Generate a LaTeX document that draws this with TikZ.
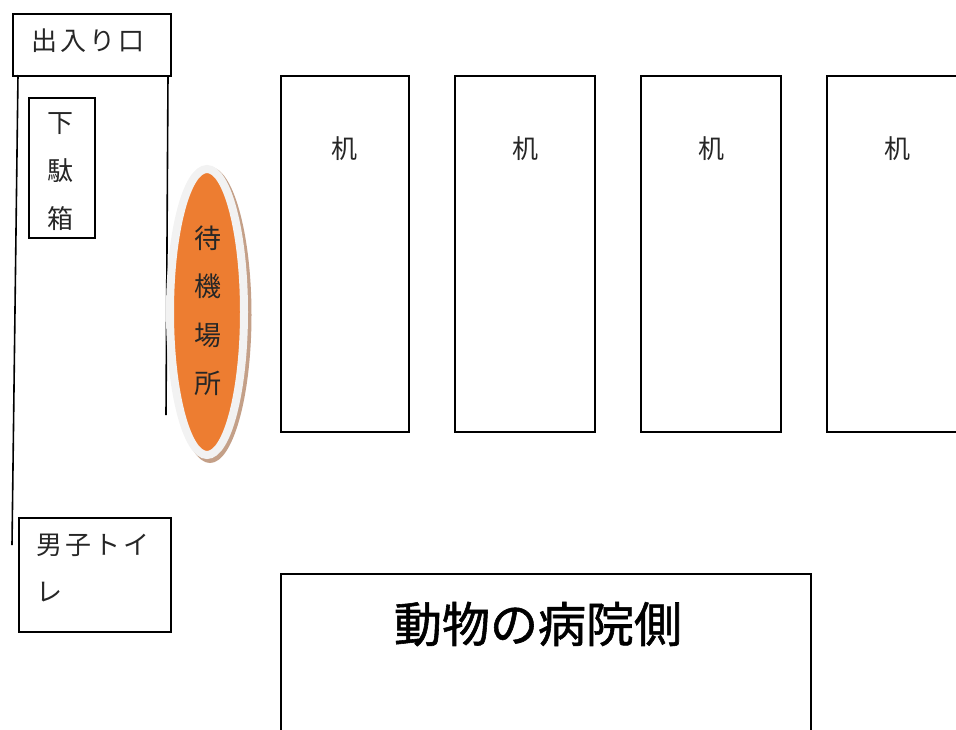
\documentclass[tikz,border=0pt]{standalone}
\usepackage{fontspec}
\newfontfamily\jp{Noto Sans CJK JP}
\newfontfamily\jpw[LetterSpace=12]{Noto Sans CJK JP}
\newfontfamily\jpb[FakeBold=1.2]{Noto Sans CJK JP}
\usetikzlibrary{shapes.geometric}
\definecolor{orng}{HTML}{ED7D31}
\definecolor{ringc}{HTML}{F2F2F2}
\definecolor{shad}{HTML}{C4A088}
\begin{document}
\begin{tikzpicture}[x=1pt,y=-1pt,
  box/.style={draw=black,line width=1.6pt,rectangle,inner sep=0pt,anchor=north west},
  wall/.style={draw=black,line width=1.6pt},
  lbl/.style={font=\jp\fontsize{26}{48}\selectfont,inner sep=0pt,align=center,text=black!85},
  lblw/.style={font=\jpw\fontsize{26}{47}\selectfont,inner sep=0pt,align=left,text=black!85}]
\useasboundingbox (0,0) rectangle (956,729);
\clip (0,0) rectangle (956,729);
% entrance
\node[box,minimum width=158pt,minimum height=62pt] (door) at (12,13) {};
\node[lblw,anchor=west] (doortxt) at (31,41) {出入り口};
% walls
\coordinate (lwtop) at (18,75);
\coordinate (lwbot) at (12,545);
\coordinate (rwtop) at (168,75);
\coordinate (rwbot) at (166,415);
\draw[wall] (lwtop) -- (lwbot);
\draw[wall] (rwtop) -- (rwbot);
% shoe box
\node[box,minimum width=66pt,minimum height=140pt] (shoe) at (28,97) {};
\node[lbl] (shoetxt) at (60,172) {下\\駄\\箱};
% waiting area
\node[ellipse,fill=shad,inner sep=0pt,minimum width=83pt,minimum height=296pt] (waitshadow) at (210,315) {};
\node[ellipse,fill=orng,draw=ringc,line width=8pt,inner sep=0pt,minimum width=74pt,minimum height=286pt] (wait) at (207,312) {};
\node[lbl,font=\jp\fontsize{27}{48.5}\selectfont] (waittxt) at (208,311) {待\\機\\場\\所};
% desks
\node[box,minimum width=128pt,minimum height=356pt] (desk1) at (280,75) {};
\node[box,minimum width=140pt,minimum height=356pt] (desk2) at (454,75) {};
\node[box,minimum width=140pt,minimum height=356pt] (desk3) at (640,75) {};
\node[box,minimum width=150pt,minimum height=356pt] (desk4) at (826,75) {};
\node[lbl] (d1txt) at (344,149) {机};
\node[lbl] (d2txt) at (525,149) {机};
\node[lbl] (d3txt) at (711,149) {机};
\node[lbl] (d4txt) at (897,149) {机};
% toilet
\node[box,minimum width=152pt,minimum height=114pt] (toilet) at (18,517) {};
\node[lblw,anchor=west] (toilettxt) at (36,568) {男子トイ\\レ};
% hospital side
\node[box,minimum width=530pt,minimum height=200pt] (hosp) at (280,573) {};
\node[inner sep=0pt,font=\jpb\fontsize{48}{50}\selectfont] (hosptxt) at (538,624) {動物の病院側};
\end{tikzpicture}
\end{document}
